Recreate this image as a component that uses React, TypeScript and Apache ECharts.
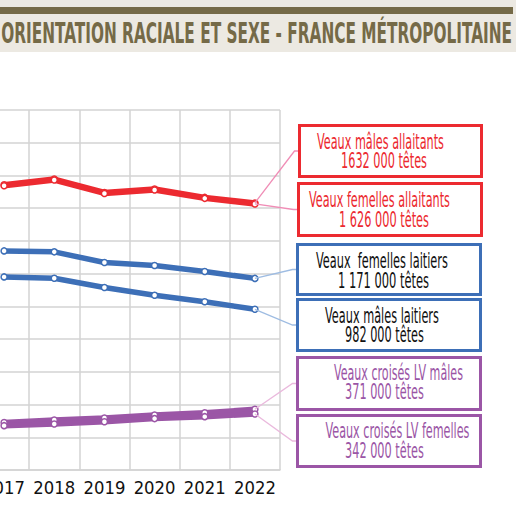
import React, { useEffect, useRef } from "react";
import * as echarts from "echarts";

const years = ["2017", "2018", "2019", "2020", "2021", "2022"];
const malesAllaitants = [1743000, 1778000, 1696000, 1717000, 1666000, 1632000];
const femellesAllaitants = [1737000, 1772000, 1690000, 1711000, 1660000, 1626000];
const femellesLaitiers = [1339000, 1333000, 1268000, 1250000, 1213000, 1171000];
const malesLaitiers = [1180000, 1172000, 1115000, 1068000, 1028000, 982000];
const croisesMales = [290000, 306000, 318000, 336000, 350000, 371000];
const croisesFemelles = [271000, 281000, 295000, 314000, 326000, 342000];
const yTicks = { min: 0, max: 2200000, interval: 200000 };

const titleText = "ORIENTATION RACIALE ET SEXE - FRANCE MÉTROPOLITAINE";

const RED = "#ec2a30";
const BLUE = "#3d6fb7";
const PURPLE = "#9b56a6";

// the chart is cropped on the left: the canvas starts OFF px left of the page
const OFF = 21;

const seriesDefs = [
  { name: "Veaux mâles allaitants", data: malesAllaitants, color: RED, label: "1632 000 têtes" },
  { name: "Veaux femelles allaitants", data: femellesAllaitants, color: RED, label: "1 626 000 têtes" },
  { name: "Veaux  femelles laitiers", data: femellesLaitiers, color: BLUE, label: "1 171 000 têtes" },
  { name: "Veaux mâles laitiers", data: malesLaitiers, color: BLUE, label: "982 000 têtes" },
  { name: "Veaux croisés LV mâles", data: croisesMales, color: PURPLE, label: "371 000 têtes" },
  { name: "Veaux croisés LV femelles", data: croisesFemelles, color: PURPLE, label: "342 000 têtes" },
];

// legend box layout (page positions)
const boxes = [
  { x: 299.5, y: 125.5, w: 182, h: 51, l1: [380.5, 141.5, 127], l2: [384, 161, 86], text: RED, line: "#f08db6" },
  { x: 298.5, y: 183.5, w: 183, h: 52, l1: [379.5, 199.5, 141], l2: [384, 220, 90], text: RED, line: "#f08db6" },
  { x: 297.5, y: 244.5, w: 183, h: 50, l1: [382, 260.5, 132], l2: [383.5, 280.5, 91], text: "#111111", line: "#9ebce2" },
  { x: 297.5, y: 299.5, w: 183, h: 51, l1: [382, 315.5, 114], l2: [384.5, 334.5, 79], text: "#111111", line: "#9ebce2" },
  { x: 297.5, y: 357.5, w: 183, h: 52, l1: [398.5, 372.5, 129], l2: [384.5, 392, 79], text: PURPLE, line: "#eab9dd" },
  { x: 297.5, y: 415.5, w: 183, h: 51, l1: [397.5, 430.5, 144], l2: [384.5, 450.5, 79], text: PURPLE, line: "#eab9dd" },
];

export default function App() {
  const ref = useRef<HTMLDivElement>(null);
  useEffect(() => {
    document.body.style.margin = "0";
    const ctx = document.createElement("canvas").getContext("2d")!;
    const measure = (text: string, font: string) => {
      ctx.font = font;
      return ctx.measureText(text).width;
    };
    const probe = "2022 Veaux mâles abcdefghij";
    const candidates = ["Liberation Sans Narrow", "DejaVu Sans Condensed", "Liberation Sans"];
    let family = "Liberation Sans";
    for (const c of candidates) {
      const a = measure(probe, `100px "${c}", monospace`);
      const b = measure(probe, "100px monospace");
      if (Math.abs(a - b) > 1) {
        family = c;
        break;
      }
    }
    const FONT = `"${family}", sans-serif`;
    const fit = (text: string, font: string, target: number) => {
      const w = measure(text, font) || target;
      return target / w;
    };
    // axis label size: aim for "2022" about 42px wide, at most 21px tall
    const perPx = measure("2022", `1px ${FONT}`) || 2;
    const axisSize = Math.min(21, Math.round((42 / perPx) * 10) / 10);

    const chart = echarts.init(ref.current!, null, { renderer: "svg" });
    chart.setOption({
      animation: false,
      backgroundColor: "#ffffff",
      grid: { left: 0, right: 537 - (280 + OFF), top: 110, bottom: 36, containLabel: false },
      xAxis: {
        type: "category",
        data: years,
        boundaryGap: true,
        axisLine: { show: true, lineStyle: { color: "#d3d3d3", width: 1.5 } },
        axisTick: { show: false },
        splitLine: { show: true, interval: 0, lineStyle: { color: "#d3d3d3", width: 1.5 } },
        axisLabel: { interval: 0, color: "#111111", fontFamily: FONT, fontSize: axisSize, margin: 8 },
      },
      yAxis: {
        type: "value",
        min: yTicks.min,
        max: yTicks.max,
        interval: yTicks.interval,
        axisLine: { show: false },
        axisTick: { show: false },
        axisLabel: { show: false },
        splitLine: { show: true, lineStyle: { color: "#d3d3d3", width: 1.5 } },
      },
      series: seriesDefs.map((s) => ({
        type: "line",
        name: s.name,
        data: s.data,
        symbol: "circle",
        symbolSize: 6,
        showAllSymbol: true,
        lineStyle: { color: s.color, width: 5.5 },
        itemStyle: { color: "#ffffff", borderColor: s.color, borderWidth: 1.5 },
        emphasis: { disabled: true },
      })),
    });

    const graphic: any[] = [];
    graphic.push({ type: "rect", shape: { x: 0, y: 0, width: 537, height: 52 }, style: { fill: "#ece9e2" }, z: 1 });
    graphic.push({ type: "rect", shape: { x: OFF, y: 7, width: 513, height: 7 }, style: { fill: "#756a47" }, z: 2 });
    const titleFont = `bold 29px ${FONT}`;
    graphic.push({
      type: "text",
      x: OFF + 512,
      y: 33,
      scaleX: fit(titleText, titleFont, 511),
      z: 3,
      style: {
        text: titleText,
        font: titleFont,
        fill: "#756a47",
        textAlign: "right",
        align: "right",
        textVerticalAlign: "middle",
        verticalAlign: "middle",
      },
    });

    const last = years.length - 1;
    seriesDefs.forEach((s, i) => {
      const b = boxes[i];
      const p = chart.convertToPixel({ seriesIndex: i }, [years[last], s.data[last]]) as number[];
      const bx = b.x + OFF;
      const midY = b.y + b.h / 2;
      graphic.push({
        type: "polyline",
        z: 5,
        shape: { points: [[p[0], p[1]], [bx - 5, midY], [bx, midY]] },
        style: { stroke: b.line, lineWidth: 1.3, fill: null },
      });
      graphic.push({
        type: "rect",
        z: 6,
        shape: { x: bx, y: b.y, width: b.w, height: b.h },
        style: { fill: "#ffffff", stroke: s.color, lineWidth: 3 },
      });
      const f = `normal 21px ${FONT}`;
      [[s.name, b.l1], [s.label, b.l2]].forEach(([t, pos]: any) => {
        graphic.push({
          type: "text",
          z: 7,
          x: pos[0] + OFF,
          y: pos[1],
          scaleX: fit(t, f, pos[2]),
          style: {
            text: t,
            font: f,
            fill: b.text,
            textAlign: "center",
            align: "center",
            textVerticalAlign: "middle",
            verticalAlign: "middle",
          },
        });
      });
    });
    chart.setOption({ graphic });
    return () => chart.dispose();
  }, []);
  return (
    <div
      ref={ref}
      style={{ position: "fixed", left: -OFF, top: 0, width: 516 + OFF, height: 506, background: "#ffffff" }}
    />
  );
}
